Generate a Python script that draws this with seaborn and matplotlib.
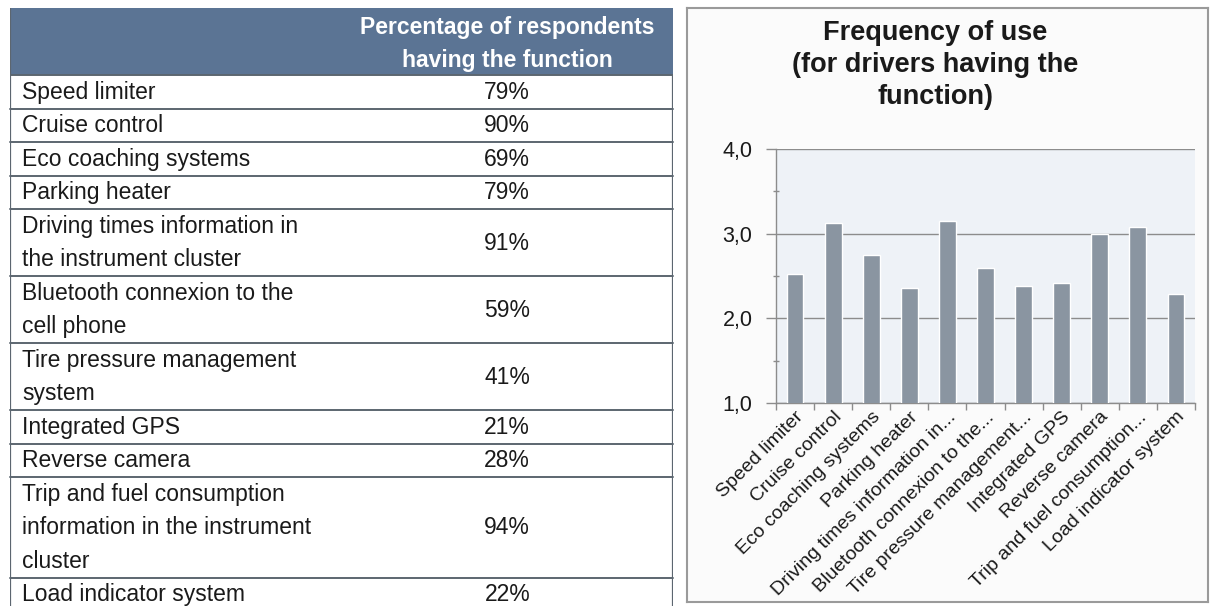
import numpy as np
import pandas as pd
import matplotlib
matplotlib.use("Agg")
import matplotlib.pyplot as plt
from matplotlib.patches import Rectangle
from matplotlib.ticker import FuncFormatter, FixedLocator
import seaborn as sns

# table data (left)
functions = ["Speed limiter", "Cruise control", "Eco coaching systems", "Parking heater",
             "Driving times information in\nthe instrument cluster",
             "Bluetooth connexion to the\ncell phone",
             "Tire pressure management\nsystem",
             "Integrated GPS", "Reverse camera",
             "Trip and fuel consumption\ninformation in the instrument\ncluster",
             "Load indicator system"]
pct_having = [79, 90, 69, 79, 91, 59, 41, 21, 28, 94, 22]
header = "Percentage of respondents\nhaving the function"

# bar chart data (right)
short_labels = ["Speed limiter", "Cruise control", "Eco coaching systems", "Parking heater",
                "Driving times information in...", "Bluetooth connexion to the...",
                "Tire pressure management...", "Integrated GPS", "Reverse camera",
                "Trip and fuel consumption...", "Load indicator system"]
freq_use = [2.52, 3.13, 2.75, 2.36, 3.15, 2.59, 2.38, 2.42, 3.00, 3.08, 2.29]
chart_title = "Frequency of use\n(for drivers having the\nfunction)"

sns.set_theme(style="white")
plt.rcParams['font.family'] = ['Liberation Sans', 'DejaVu Sans']

W, H = 1210, 606
fig = plt.figure(figsize=(W / 100, H / 100), dpi=100)
fig.patch.set_facecolor("white")

header_col = "#5b7494"
line_col = "#5c6670"
txt_col = "#1a1a1a"
fs_table = 16.5
line_px = 33.5

# ---- table ----
tx0, tx1, ty0 = 10, 673, 8
ax_t = fig.add_axes([tx0 / W, 0, (tx1 - tx0) / W, (H - ty0) / H])
n_vis = (H - ty0) / line_px
ax_t.set_xlim(0, 1)
ax_t.set_ylim(n_vis, 0)
ax_t.axis("off")

val_x = 0.75
ax_t.add_patch(Rectangle((0, 0), 1, 2, facecolor=header_col, edgecolor="none"))
for i, ln in enumerate(header.split("\n")):
    ax_t.text(val_x, i + 0.58, ln, ha="center", va="center", color="white",
              fontsize=fs_table, fontweight="bold")

y = 2
ax_t.plot([0, 1], [y, y], color=line_col, lw=1.4)
for lab, v in zip(functions, pct_having):
    lines = lab.split("\n")
    for j, ln in enumerate(lines):
        ax_t.text(0.018, y + j + 0.52, ln, ha="left", va="center", color=txt_col, fontsize=fs_table)
    ax_t.text(val_x, y + len(lines) / 2 + 0.02, f"{v}%", ha="center", va="center",
              color=txt_col, fontsize=fs_table)
    y += len(lines)
    ax_t.plot([0, 1], [y, y], color=line_col, lw=1.4, clip_on=False)
ax_t.plot([0, 0], [0, n_vis], color=line_col, lw=1.6)
ax_t.plot([1, 1], [2, n_vis], color=line_col, lw=1.6)

# ---- chart panel ----
ax_bg = fig.add_axes([687 / W, (H - 602) / H, (1208 - 687) / W, (602 - 8) / H], zorder=0)
ax_bg.set_facecolor("#fbfbfb")
ax_bg.set_xticks([])
ax_bg.set_yticks([])
for s in ax_bg.spines.values():
    s.set_color("#9a9a9a")
    s.set_linewidth(1.5)
ax_bg.text(0.477, 0.98, chart_title, transform=ax_bg.transAxes, ha="center", va="top",
           fontsize=19.5, fontweight="bold", color=txt_col, linespacing=1.3)

px0, px1, py_top, py_bot = 776, 1195, 149, 403
ax = fig.add_axes([px0 / W, (H - py_bot) / H, (px1 - px0) / W, (py_bot - py_top) / H], zorder=2)
ax.set_facecolor("#eef2f7")
df = pd.DataFrame({"feature": short_labels, "freq": freq_use})
sns.barplot(data=df, x="feature", y="freq", color="#8a95a1", saturation=1,
            width=0.44, ax=ax, zorder=3)
ax.set_ylim(1, 4)
ax.set_xlim(-0.5, len(short_labels) - 0.5)
ax.set_xlabel("")
ax.set_ylabel("")
ax.yaxis.set_major_locator(FixedLocator([1, 2, 3, 4]))
ax.yaxis.set_minor_locator(FixedLocator([1.5, 2.5, 3.5]))
ax.yaxis.set_major_formatter(FuncFormatter(lambda v, p: f"{v:.1f}".replace(".", ",")))
ax.grid(axis="y", which="major", color="#8c8c8c", lw=1.0, zorder=1)
ax.set_axisbelow(True)
for s in ["top", "right"]:
    ax.spines[s].set_visible(False)
for s in ["left", "bottom"]:
    ax.spines[s].set_color("#8c8c8c")
    ax.spines[s].set_linewidth(1.0)
ax.tick_params(axis="y", which="major", length=7, width=1, color="#8c8c8c",
               labelsize=15.5, pad=10, left=True, labelcolor=txt_col)
ax.tick_params(axis="y", which="minor", length=5, width=1, color="#8c8c8c",
               direction="inout", left=True)
ax.xaxis.set_minor_locator(FixedLocator(np.arange(-0.5, len(short_labels), 1)))
ax.tick_params(axis="x", which="minor", length=5, width=1, color="#8c8c8c", bottom=True)
ax.tick_params(axis="x", which="major", length=0, pad=4, labelsize=14, labelcolor=txt_col)
plt.setp(ax.get_xticklabels(), rotation=45, ha="right", rotation_mode="anchor")

fig.savefig("out.png", dpi=100)
